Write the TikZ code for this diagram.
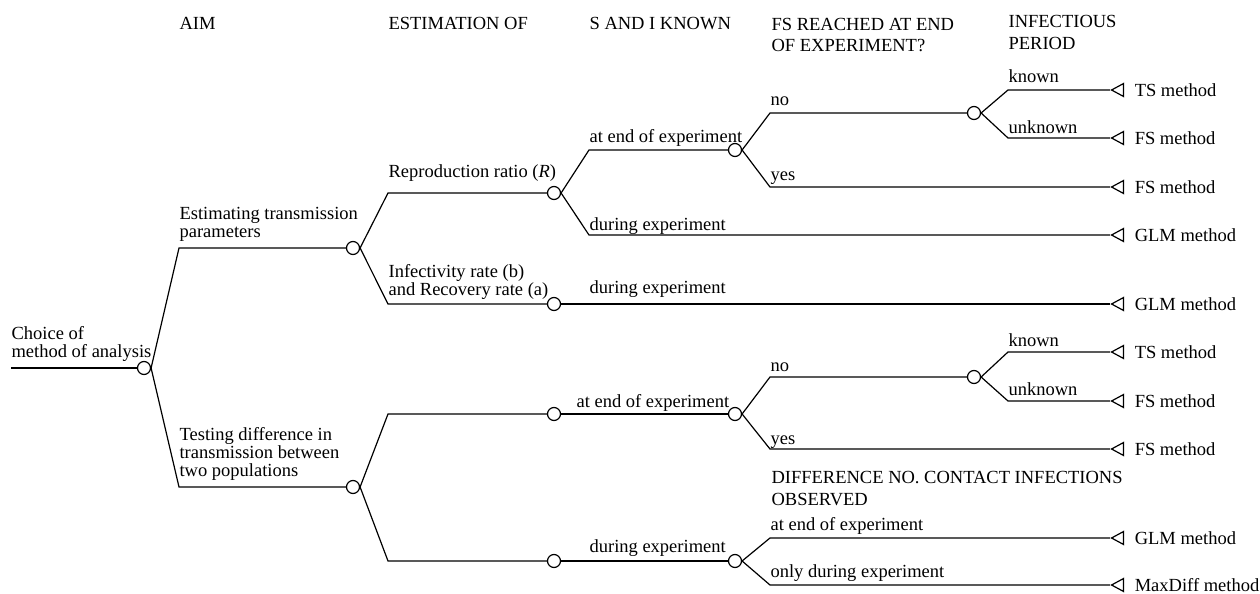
\documentclass[tikz,border=0pt]{standalone}
\usepackage{fontspec}
\setmainfont{Liberation Serif}
\usetikzlibrary{shapes.geometric,positioning}
\tikzset{
  chance/.style={circle,draw,fill=white,inner sep=0pt,minimum size=6.5pt},
  endtri/.style={isosceles triangle,draw,shape border rotate=180,isosceles triangle stretches,inner sep=0pt,minimum height=6pt,minimum width=6.5pt,anchor=apex},
  lbl/.style={anchor=base west,inner sep=0pt,align=left,font=\fontsize{9.25}{9}\selectfont},
  head/.style={lbl,font=\fontsize{9.25}{10.75}\selectfont},
  meth/.style={inner sep=0pt,font=\fontsize{9.25}{9}\selectfont}
}
\begin{document}
\begin{tikzpicture}[x=0.5pt,y=-0.5pt,line width=0.6pt]
\useasboundingbox (0,0) rectangle (1260,594);
% column heads
\node[head] (hAim) at (179,30) {AIM};
\node[head] (hEst) at (388,30) {ESTIMATION OF};
\node[head] (hSI) at (589,29) {S AND I KNOWN};
\node[head] (hFS) at (771,52) {FS REACHED AT END\\OF EXPERIMENT?};
\node[head] (hInf) at (1008,49) {INFECTIOUS\\PERIOD};
\node[head] (hDiff) at (771,505) {DIFFERENCE NO. CONTACT INFECTIONS\\OBSERVED};
% chance nodes
\node[chance] (root) at (144,368) {};
\node[chance] (aimE) at (353,248) {};
\node[chance] (aimT) at (353,487) {};
\node[chance] (estR) at (554,193) {};
\node[chance] (estBA) at (554,304) {};
\node[chance] (sR) at (735,150) {};
\node[chance] (fsR) at (974,113) {};
\node[chance] (tstE) at (554,414) {};
\node[chance] (sT) at (735,414) {};
\node[chance] (fsT) at (974,377) {};
\node[chance] (tstD) at (554,561) {};
\node[chance] (sD) at (735,561) {};
% outcomes
\foreach \n/\y/\t in {m1/90/TS method,m2/138/FS method,m3/187/FS method,m4/235/GLM method,
  m5/304/GLM method,m6/352/TS method,m7/401/FS method,m8/449/FS method,
  m9/538/GLM method,m10/585/MaxDiff method}{
  \node[endtri] (\n) at (1110,\y) {};
  \node[meth,right=5pt of \n] (\n t) {\t};
}
% corners
\coordinate (start) at (11,368);
\coordinate (kE) at (179,248);
\coordinate (kT) at (179,487);
\coordinate (kR) at (388,193);
\coordinate (kBA) at (388,304);
\coordinate (kRend) at (589,150);
\coordinate (kRdur) at (589,235);
\coordinate (kRno) at (770,113);
\coordinate (kRyes) at (770,187);
\coordinate (kRkn) at (1008,90);
\coordinate (kRun) at (1008,138);
\coordinate (kTE) at (388,414);
\coordinate (kTD) at (388,561);
\coordinate (kTno) at (770,377);
\coordinate (kTyes) at (770,449);
\coordinate (kTkn) at (1008,352);
\coordinate (kTun) at (1008,401);
\coordinate (kDend) at (770,538);
\coordinate (kDdur) at (770,585);
% branches
\draw (start) -- (root);
\draw (root.east) -- (kE) -- (aimE);
\draw (root.east) -- (kT) -- (aimT);
\draw (aimE.east) -- (kR) -- (estR);
\draw (aimE.east) -- (kBA) -- (estBA);
\draw (estR.east) -- (kRend) -- (sR);
\draw (estR.east) -- (kRdur) -- (m4);
\draw (estBA) -- (m5);
\draw (sR.east) -- (kRno) -- (fsR);
\draw (sR.east) -- (kRyes) -- (m3);
\draw (fsR.east) -- (kRkn) -- (m1);
\draw (fsR.east) -- (kRun) -- (m2);
\draw (aimT.east) -- (kTE) -- (tstE);
\draw (aimT.east) -- (kTD) -- (tstD);
\draw (tstE) -- (sT);
\draw (sT.east) -- (kTno) -- (fsT);
\draw (sT.east) -- (kTyes) -- (m8);
\draw (fsT.east) -- (kTkn) -- (m6);
\draw (fsT.east) -- (kTun) -- (m7);
\draw (tstD) -- (sD);
\draw (sD.east) -- (kDend) -- (m9);
\draw (sD.east) -- (kDdur) -- (m10);
% branch labels
\node[lbl] (lRoot) at (11,357) {Choice of\\method of analysis};
\node[lbl] (lE) at (179,237) {Estimating transmission\\parameters};
\node[lbl] (lT) at (179,476) {Testing difference in\\transmission between\\two populations};
\node[lbl] (lR) at (388,177) {Reproduction ratio (\textit{R})};
\node[lbl] (lBA) at (388,295) {Infectivity rate (b)\\and Recovery rate (a)};
\node[lbl] (lRend) at (589,142) {at end of experiment};
\node[lbl] (lRdur) at (589,230) {during experiment};
\node[lbl] (lBAdur) at (589,293) {during experiment};
\node[lbl] (lRno) at (770,105) {no};
\node[lbl] (lRyes) at (770,180) {yes};
\node[lbl] (lRkn) at (1008,83) {known};
\node[lbl] (lRun) at (1008,133) {unknown};
\node[lbl] (lTE) at (576,407) {at end of experiment};
\node[lbl] (lTno) at (770,371) {no};
\node[lbl] (lTyes) at (770,444) {yes};
\node[lbl] (lTkn) at (1008,346) {known};
\node[lbl] (lTun) at (1008,395) {unknown};
\node[lbl] (lTD) at (589,552) {during experiment};
\node[lbl] (lDend) at (770,530) {at end of experiment};
\node[lbl] (lDdur) at (770,577) {only during experiment};
\end{tikzpicture}
\end{document}
